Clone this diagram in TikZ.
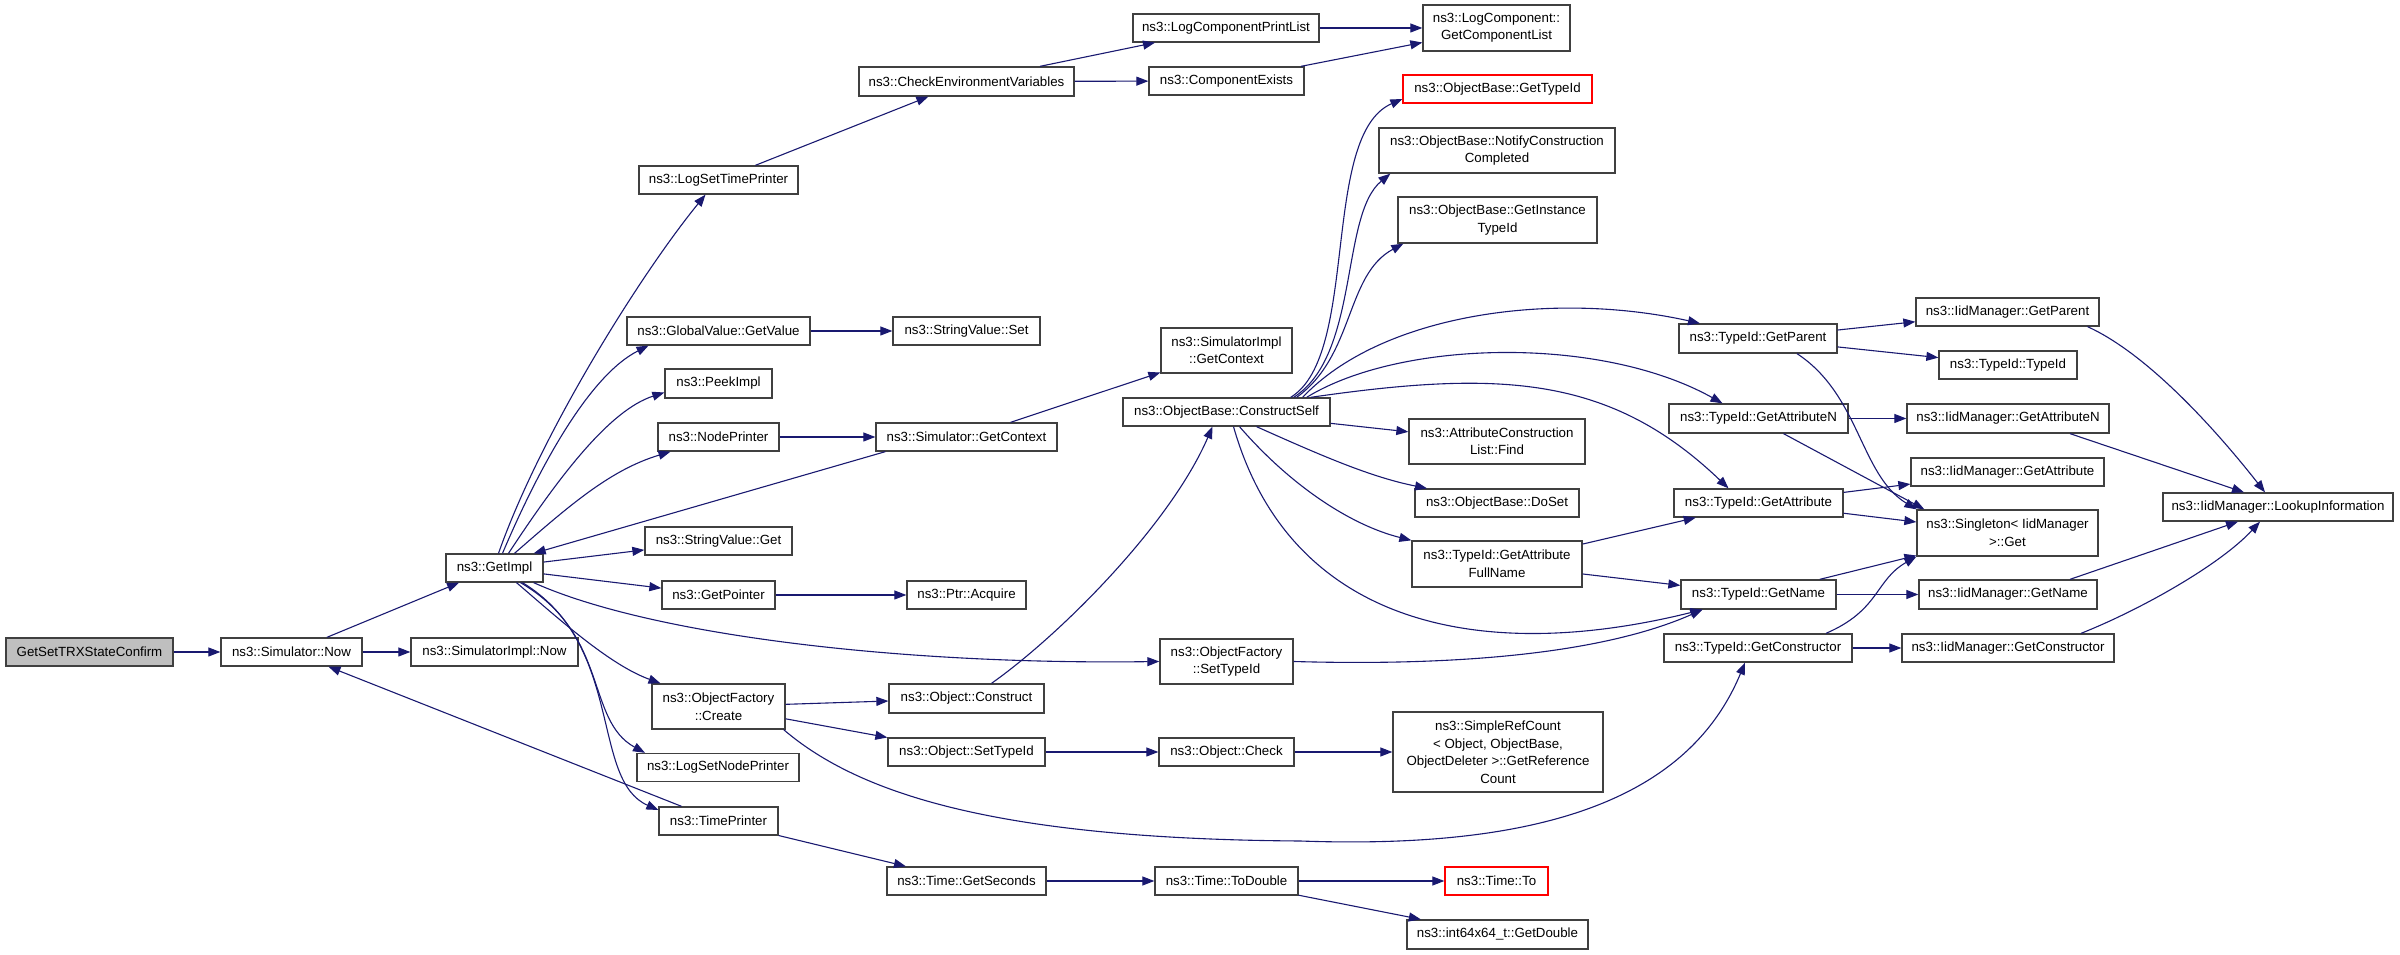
\documentclass[tikz,border=0pt]{standalone}
\usepackage{fontspec}
\setmainfont{Liberation Sans}
\usetikzlibrary{positioning, arrows.meta}
\definecolor{edgecol}{RGB}{25,25,112}
\definecolor{boxcol}{RGB}{64,64,64}
\definecolor{rootfill}{RGB}{191,191,191}

\begin{document}
\begin{tikzpicture}[
			x=1pt, y=1pt,
			on grid,
			font=\fontsize{13.3pt}{17.5pt}\selectfont,
			fn/.style={
				draw=boxcol,
				line width=1.3pt,
				fill=white,
				rectangle,
				minimum height=28pt,
				inner sep=2pt,
				align=center
			},
			root/.style={
				fn,
				fill=rootfill
			},
			undoc/.style={
				fn,
				draw=red
			},
			tall/.style={
				minimum height=45pt
			},
			call/.style={
				draw=edgecol,
				line width=1.1pt,
				-{Triangle[length=12pt,width=9pt]}
			}
			]
			\useasboundingbox (0,0) rectangle (2400,955);
			
			% Caller and GetImpl
			\node[root, minimum width=167pt] (start) at (89.5,303) {GetSetTRXStateConfirm};
			\node[fn, minimum width=141pt] (now) [right=202pt of start] {ns3::Simulator::Now};
			\node[fn, minimum width=167pt] (simimplnow) [right=203pt of now] {ns3::SimulatorImpl::Now};
			\node[fn, minimum width=97pt] (getimpl) at (494.5,387) {ns3::GetImpl};
			
			% Callees of GetImpl
			\node[fn, minimum width=159pt] (logsettime) at (718.5,775) {ns3::LogSetTimePrinter};
			\node[fn, minimum width=183pt] (getvalue) at (718.5,624) {ns3::GlobalValue::GetValue};
			\node[fn, minimum width=107pt, minimum height=29pt] (peekimpl) at (718.5,571.5) {ns3::PeekImpl};
			\node[fn, minimum width=121pt] (nodeprinter) at (718.5,518) {ns3::NodePrinter};
			\node[fn, minimum width=147pt] (strget) at (718.5,414) {ns3::StringValue::Get};
			\node[fn, minimum width=113pt] (getpointer) at (718.5,360) {ns3::GetPointer};
			\node[fn, tall, minimum width=133pt] (ofcreate) at (718.5,248.5) {ns3::ObjectFactory\\::Create};
			\node[fn, minimum width=162pt] (logsetnode) at (718,187.5) {ns3::LogSetNodePrinter};
			\node[fn, minimum width=119pt] (timeprinter) at (718.5,134) {ns3::TimePrinter};
			
			% Third level
			\node[fn, minimum width=215pt, minimum height=29pt] (checkenv) at (966.5,873.5) {ns3::CheckEnvironmentVariables};
			\node[fn, minimum width=147pt] (strset) [right=248pt of getvalue] {ns3::StringValue::Set};
			\node[fn, minimum width=181pt] (simgetctx) [right=248pt of nodeprinter] {ns3::Simulator::GetContext};
			\node[fn, minimum width=119pt] (acquire) [right=248pt of getpointer] {ns3::Ptr::Acquire};
			\node[fn, minimum width=155pt, minimum height=29pt] (construct) at (966.5,256.5) {ns3::Object::Construct};
			\node[fn, minimum width=157pt] (objsettype) at (966.5,203) {ns3::Object::SetTypeId};
			\node[fn, minimum width=159pt] (getseconds) at (966.5,74) {ns3::Time::GetSeconds};
			
			% Fourth level
			\node[fn, minimum width=186pt] (printlist) at (1226,927) {ns3::LogComponentPrintList};
			\node[fn, minimum width=155pt] (compexists) at (1226.5,874) {ns3::ComponentExists};
			\node[fn, tall, minimum width=131pt] (implgetctx) at (1226.5,604.5) {ns3::SimulatorImpl\\::GetContext};
			\node[fn, minimum width=207pt] (constructself) at (1226.5,543) {ns3::ObjectBase::ConstructSelf};
			\node[fn, tall, minimum width=133pt] (ofsettype) at (1226.5,293.5) {ns3::ObjectFactory\\::SetTypeId};
			\node[fn, minimum width=135pt] (check) [right=260pt of objsettype] {ns3::Object::Check};
			\node[fn, minimum width=143pt] (todouble) [right=260pt of getseconds] {ns3::Time::ToDouble};
			
			% Fifth level
			\node[fn, minimum width=147pt, minimum height=46pt] (complist) at (1496.5,927) {ns3::LogComponent::\\GetComponentList};
			\node[undoc, minimum width=189pt] (obgettypeid) at (1497.5,866) {ns3::ObjectBase::GetTypeId};
			\node[fn, tall, minimum width=236pt] (notify) at (1497,804.5) {ns3::ObjectBase::NotifyConstruction\\Completed};
			\node[fn, minimum width=199pt, minimum height=46pt] (getinst) at (1497.5,735) {ns3::ObjectBase::GetInstance\\TypeId};
			\node[fn, tall, minimum width=176pt] (attrfind) at (1497,513.5) {ns3::AttributeConstruction\\List::Find};
			\node[fn, minimum width=164pt] (doset) at (1497,452) {ns3::ObjectBase::DoSet};
			\node[fn, minimum width=170pt, minimum height=46pt] (fullname) at (1497,391) {ns3::TypeId::GetAttribute\\FullName};
			\node[fn, minimum width=210pt, minimum height=80pt] (refcount) at (1498,203) {ns3::SimpleRefCount\\< Object, ObjectBase,\\ObjectDeleter >::GetReference\\Count};
			\node[undoc, minimum width=103pt] (timeto) [right=270pt of todouble] {ns3::Time::To};
			\node[fn, minimum width=181pt, minimum height=29pt] (getdouble) at (1497.5,20.5) {ns3::int64x64\_t::GetDouble};
			
			% TypeId
			\node[fn, minimum width=158pt, minimum height=29pt] (tgetparent) at (1758,616.5) {ns3::TypeId::GetParent};
			\node[fn, minimum width=179pt, minimum height=29pt] (tgetattrn) at (1758.5,536.5) {ns3::TypeId::GetAttributeN};
			\node[fn, minimum width=169pt] (tgetattr) at (1758.5,452) {ns3::TypeId::GetAttribute};
			\node[fn, minimum width=155pt, minimum height=29pt] (tgetname) at (1758.5,360.5) {ns3::TypeId::GetName};
			\node[fn, minimum width=188pt] (tgetctor) at (1758,307) {ns3::TypeId::GetConstructor};
			
			% IidManager
			\node[fn, minimum width=183pt] (igetparent) at (2007.5,643) {ns3::IidManager::GetParent};
			\node[fn, minimum width=138pt] (typeid) at (2008,590) {ns3::TypeId::TypeId};
			\node[fn, minimum width=202pt, minimum height=29pt] (igetattrn) [right=249.5pt of tgetattrn] {ns3::IidManager::GetAttributeN};
			\node[fn, minimum width=193pt] (igetattr) at (2007.5,483) {ns3::IidManager::GetAttribute};
			\node[fn, minimum width=181pt, minimum height=46pt] (singleton) at (2007.5,422) {ns3::Singleton< IidManager\\>::Get};
			\node[fn, minimum width=178pt, minimum height=29pt] (igetname) [right=249.5pt of tgetname] {ns3::IidManager::GetName};
			\node[fn, minimum width=212pt] (igetctor) [right=250pt of tgetctor] {ns3::IidManager::GetConstructor};
			\node[fn, minimum width=230pt] (lookup) at (2278,448) {ns3::IidManager::LookupInformation};
			
			% Calls from the left part
			\draw[call] (start) -- (now);
			\draw[call] (now) -- (simimplnow);
			\draw[call] (now) -- (getimpl);
			\draw[call] (timeprinter) -- (now);
			\draw[call] ([xshift=4pt]getimpl.north) .. controls (540,520) and (640,680) .. ([xshift=-13pt]logsettime.south);
			\draw[call] ([xshift=8pt]getimpl.north) .. controls (540,490) and (590,580) .. ([xshift=-70pt]getvalue.south);
			\draw[call] ([xshift=14pt]getimpl.north) .. controls (560,480) and (610,545) .. ([yshift=-9pt]peekimpl.west);
			\draw[call] ([xshift=20pt]getimpl.north) .. controls (570,450) and (610,485) .. ([xshift=-48pt]nodeprinter.south);
			\draw[call] ([xshift=10pt]simgetctx.south west) -- ([xshift=-10pt]getimpl.north east);
			\draw[call] (getimpl) -- (strget);
			\draw[call] (getimpl) -- (getpointer);
			\draw[call] ([xshift=22pt]getimpl.south) .. controls (560,335) and (610,290) .. ([xshift=-58pt]ofcreate.north);
			\draw[call] ([xshift=26pt]getimpl.south) .. controls (610,320) and (585,235) .. ([xshift=-73pt]logsetnode.north);
			\draw[call] ([xshift=28pt]getimpl.south) .. controls (625,310) and (590,175) .. ([yshift=11pt]timeprinter.west);
			\draw[call] ([xshift=-10pt]getimpl.south east) .. controls (650,320) and (900,290) .. (ofsettype.west);
			
			% Middle part
			\draw[call] (logsettime) -- (checkenv);
			\draw[call] (checkenv) -- (printlist);
			\draw[call] (checkenv) -- (compexists);
			\draw[call] (printlist) -- (complist);
			\draw[call] (compexists) -- (complist);
			\draw[call] (getvalue) -- (strset);
			\draw[call] (nodeprinter) -- (simgetctx);
			\draw[call] (simgetctx) -- (implgetctx);
			\draw[call] (getpointer) -- (acquire);
			\draw[call] (ofcreate) -- (construct);
			\draw[call] (ofcreate) -- (objsettype);
			\draw[call] ([xshift=-2pt]ofcreate.south east) .. controls (860,160) and (1000,116) .. (1300,114) .. controls (1550,105) and (1690,160) .. ([xshift=-13pt]tgetctor.south); % long way round
			\draw[call] ([xshift=25pt]construct.north) .. controls (1060,320) and (1170,430) .. ([xshift=-14pt]constructself.south);
			\draw[call] (objsettype) -- (check);
			\draw[call] (check) -- (refcount);
			\draw[call] (timeprinter) -- (getseconds);
			\draw[call] (getseconds) -- (todouble);
			\draw[call] (todouble) -- (timeto);
			\draw[call] (todouble) -- (getdouble);
			
			% ConstructSelf
			\draw[call] ([xshift=-40pt]constructself.north east) .. controls (1360,600) and (1320,820) .. ([yshift=-10pt]obgettypeid.west);
			\draw[call] ([xshift=-37pt]constructself.north east) .. controls (1360,600) and (1340,740) .. ([xshift=12pt]notify.south west);
			\draw[call] ([xshift=-34pt]constructself.north east) .. controls (1355,600) and (1345,680) .. ([xshift=6pt]getinst.south west);
			\draw[call] ([xshift=-28pt]constructself.north east) .. controls (1380,640) and (1550,665) .. ([xshift=-58pt]tgetparent.north);
			\draw[call] ([xshift=-24pt]constructself.north east) .. controls (1400,615) and (1600,620) .. ([xshift=-36pt]tgetattrn.north);
			\draw[call] ([xshift=-20pt]constructself.north east) .. controls (1500,585) and (1610,580) .. ([xshift=-30pt]tgetattr.north);
			\draw[call] (constructself) -- (attrfind);
			\draw[call] ([xshift=30pt]constructself.south) .. controls (1320,500) and (1370,478) .. ([xshift=-70pt]doset.north);
			\draw[call] ([xshift=13pt]constructself.south) .. controls (1290,470) and (1350,430) .. (fullname.north west);
			\draw[call] ([xshift=7pt]constructself.south) .. controls (1290,330) and (1480,290) .. ([xshift=-56pt]tgetname.south);
			\draw[call] (fullname) -- (tgetattr);
			\draw[call] (fullname) -- (tgetname);
			\draw[call] (ofsettype.east) .. controls (1450,289) and (1600,300) .. ([xshift=-56pt]tgetname.south);
			
			% TypeId to IidManager
			\draw[call] (tgetparent) -- (igetparent);
			\draw[call] (tgetparent) -- (typeid);
			\draw[call] ([xshift=39pt]tgetparent.south) .. controls (1860,560) and (1860,480) .. (singleton.north west);
			\draw[call] (tgetattrn) -- (igetattrn);
			\draw[call] ([xshift=25pt]tgetattrn.south) -- ([xshift=8pt]singleton.north west);
			\draw[call] (tgetattr) -- (igetattr);
			\draw[call] (tgetattr) -- (singleton);
			\draw[call] (tgetname) -- (singleton);
			\draw[call] (tgetname) -- (igetname);
			\draw[call] ([xshift=68pt]tgetctor.north) .. controls (1880,345) and (1875,375) .. (singleton.south west);
			\draw[call] (tgetctor) -- (igetctor);
			
			% LookupInformation
			\draw[call] ([xshift=80pt]igetparent.south) .. controls (2150,600) and (2220,520) .. ([xshift=-13pt]lookup.north);
			\draw[call] ([xshift=62pt]igetattrn.south) -- ([xshift=-34pt]lookup.north);
			\draw[call] ([xshift=62pt]igetname.north) -- ([xshift=-40pt]lookup.south);
			\draw[call] ([xshift=73pt]igetctor.north) .. controls (2140,345) and (2220,390) .. ([xshift=-18pt]lookup.south);
		\end{tikzpicture}
\end{document}
